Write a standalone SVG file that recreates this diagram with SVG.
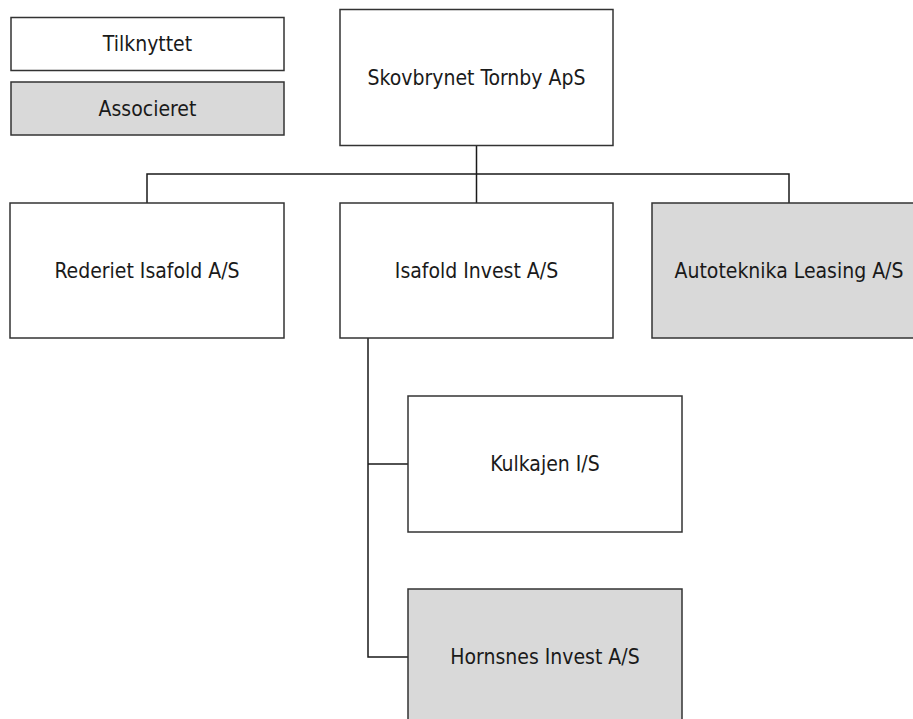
<svg xmlns="http://www.w3.org/2000/svg" width="913" height="719" viewBox="0 0 913 719">
<style>
.box{fill:#ffffff;stroke:#333333;stroke-width:1.5}
.assoc{fill:#d9d9d9;stroke:#333333;stroke-width:1.5}
.lbl{font-family:"DejaVu Sans Condensed","DejaVu Sans",sans-serif;font-size:21px;fill:#1a1a1a;text-anchor:middle;dominant-baseline:central}
.conn{fill:none;stroke:#1a1a1a;stroke-width:1.5}
</style>
<rect width="913" height="719" fill="#ffffff"/>
<g id="connectors">
<path class="conn" d="M476.5 145 V174 M147 203 V174 H789 V203 M476.5 174 V203"/>
<path class="conn" d="M368 338 V657 H408 M368 464 H408"/>
</g>
<g id="legend-tilknyttet"><rect class="box" x="11" y="17.5" width="273" height="53"/><text class="lbl" x="147.5" y="44">Tilknyttet</text></g>
<g id="legend-associeret"><rect class="assoc" x="11" y="82" width="273" height="53"/><text class="lbl" x="147.5" y="108.5">Associeret</text></g>
<g id="skovbrynet"><rect class="box" x="340" y="9.5" width="273" height="136"/><text class="lbl" x="476.5" y="77.5">Skovbrynet Tornby ApS</text></g>
<g id="rederiet"><rect class="box" x="10" y="203" width="274" height="135"/><text class="lbl" x="147" y="270.5">Rederiet Isafold A/S</text></g>
<g id="isafold"><rect class="box" x="340" y="203" width="273" height="135"/><text class="lbl" x="476.5" y="270.5">Isafold Invest A/S</text></g>
<g id="autoteknika"><rect class="assoc" x="652" y="203" width="274" height="135"/><text class="lbl" x="789" y="270.5">Autoteknika Leasing A/S</text></g>
<g id="kulkajen"><rect class="box" x="408" y="396" width="274" height="136"/><text class="lbl" x="545" y="464">Kulkajen I/S</text></g>
<g id="hornsnes"><rect class="assoc" x="408" y="589" width="274" height="136"/><text class="lbl" x="545" y="657">Hornsnes Invest A/S</text></g>
</svg>
